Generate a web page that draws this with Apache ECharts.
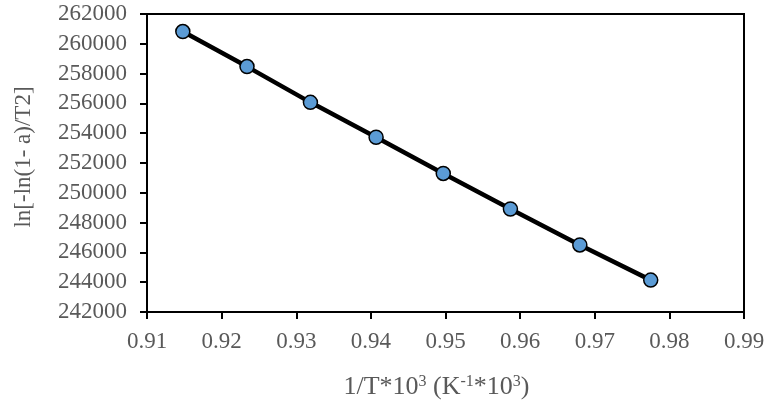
<!DOCTYPE html>
<html>
  <head>
    <meta charset="utf-8" />
    <title>ECharts</title>
    <script src="https://cdn.jsdelivr.net/npm/echarts@6/dist/echarts.min.js"></script>
    <style>
      body { margin: 0; background-color: #fff; }
      #box { width: 768px; height: 405px; }
    </style>
  </head>
  <body>
    <div id="box"></div>
    <script>
      // data
      var invT = [0.9148, 0.9234, 0.9319, 0.9407, 0.9497, 0.9587, 0.9680, 0.9775];
      var lnVal = [260820, 258470, 256070, 253730, 251300, 248910, 246500, 244140];

      var points = invT.map(function (x, i) { return [x, lnVal[i]]; });

      var grey = '#595959';
      var font = 'Liberation Serif';

      var myChart = echarts.init(document.getElementById('box'));
      var option = {
        animation: false,
        grid: {
          left: 147, right: 24, top: 14, bottom: 92,
          show: true, borderColor: '#000', borderWidth: 2, backgroundColor: 'transparent'
        },
        xAxis: {
          type: 'value',
          min: 0.91, max: 0.99, interval: 0.01,
          name: '{n|1/T*10}{s|3}{n| (K}{s|-1}{n|*10}{s|3}{n|)}',
          nameLocation: 'middle',
          nameGap: 62,
          nameTextStyle: {
            padding: [0, 18, 0, 0],
            rich: {
              n: { fontFamily: font, fontSize: 26, color: grey },
              s: { fontFamily: font, fontSize: 16, color: grey, verticalAlign: 'bottom', padding: [0, 0, 10, 0] }
            }
          },
          axisLine: { lineStyle: { color: '#000', width: 2 } },
          axisTick: { show: true, length: 7, lineStyle: { color: '#000', width: 2 } },
          axisLabel: {
            margin: 18, color: grey, fontFamily: font, fontSize: 23,
            formatter: function (v) { return v.toFixed(2); }
          },
          splitLine: { show: false }
        },
        yAxis: {
          type: 'value',
          min: 242000, max: 262000, interval: 2000,
          name: 'ln[-ln(1- a)/T2]',
          nameLocation: 'middle',
          nameGap: 112,
          nameTextStyle: { fontFamily: font, fontSize: 23, color: grey, padding: [0, 0, 0, 12] },
          axisLine: { show: true, lineStyle: { color: '#000', width: 2 } },
          axisTick: { show: true, length: 7, lineStyle: { color: '#000', width: 2 } },
          axisLabel: {
            margin: 20, color: grey, fontFamily: font, fontSize: 23,
            formatter: function (v) { return String(v); }
          },
          splitLine: { show: false }
        },
        series: [
          {
            type: 'line',
            data: points,
            symbol: 'circle',
            symbolSize: 14,
            lineStyle: { color: '#000', width: 4.5 },
            itemStyle: { color: '#5B9BD5', borderColor: '#000', borderWidth: 1.5 }
          }
        ]
      };
      myChart.setOption(option);
    </script>
  </body>
</html>
